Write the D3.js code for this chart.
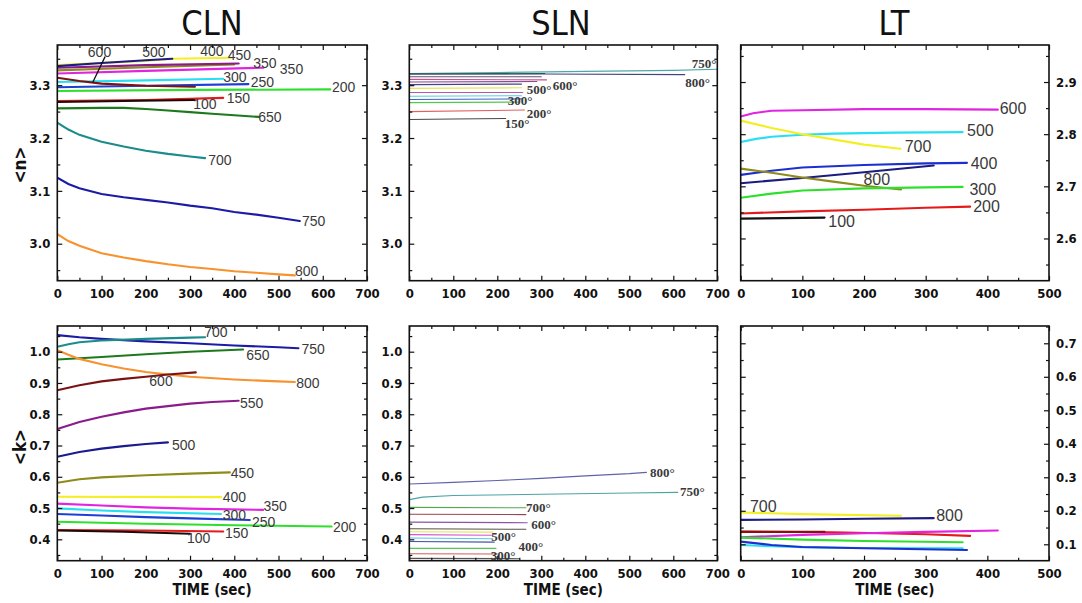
<!DOCTYPE html>
<html>
<head>
<meta charset="utf-8">
<script src="https://cdn.jsdelivr.net/npm/d3@7"></script>
<style>
  html, body { margin: 0; padding: 0; background: #fff; }
  svg { display: block; }
  .tick text { font-family: "Liberation Sans Narrow", "Arial Narrow", "DejaVu Sans Condensed", sans-serif; font-weight: bold; font-size: 13px; fill: #111; }
  .tick line { stroke: #111; stroke-width: 1.2; }
</style>
</head>
<body>
<svg id="chart" width="1082" height="603"></svg>
<script>
// ---- time axis ticks ----
const timeTicks700 = [0, 100, 200, 300, 400, 500, 600, 700];
const timeTicks500 = [0, 100, 200, 300, 400, 500];
const nTicksA = [3.0, 3.1, 3.2, 3.3];
const nTicksLT = [2.6, 2.7, 2.8, 2.9];
const kTicksA = [0.4, 0.5, 0.6, 0.7, 0.8, 0.9, 1.0];
const kTicksLT = [0.1, 0.2, 0.3, 0.4, 0.5, 0.6, 0.7];

// ---- CLN: refractive index <n> vs time, [sec, n] per anneal temperature ----
const clnN = [
  { temp: "400", pts: [[0,3.338],[200,3.346],[260,3.350],[395,3.352]] },
  { temp: "450", pts: [[0,3.328],[200,3.334],[400,3.339]] },
  { temp: "550", pts: [[0,3.333],[200,3.338],[410,3.341]] },
  { temp: "500", pts: [[0,3.336],[100,3.342],[200,3.347],[260,3.350]] },
  { temp: "350", pts: [[0,3.322],[200,3.327],[466,3.333]] },
  { temp: "300", pts: [[0,3.306],[200,3.309],[375,3.312]] },
  { temp: "250", pts: [[0,3.296],[200,3.299],[432,3.302]] },
  { temp: "200", pts: [[0,3.289],[300,3.291],[617,3.292]] },
  { temp: "600", pts: [[0,3.314],[50,3.308],[100,3.303],[200,3.299],[311,3.297]] },
  { temp: "150", pts: [[0,3.270],[200,3.272],[375,3.276]] },
  { temp: "100", pts: [[0,3.268],[150,3.270],[310,3.272]] },
  { temp: "650", pts: [[0,3.256],[100,3.257],[150,3.257],[200,3.255],[250,3.252],[300,3.249],[350,3.246],[400,3.243],[455,3.240]] },
  { temp: "700", pts: [[0,3.229],[25,3.216],[50,3.206],[100,3.193],[150,3.184],[200,3.176],[250,3.170],[300,3.165],[334,3.162]] },
  { temp: "750", pts: [[0,3.125],[25,3.113],[50,3.105],[100,3.094],[150,3.088],[200,3.083],[250,3.078],[300,3.072],[350,3.067],[400,3.060],[450,3.055],[500,3.049],[548,3.043]] },
  { temp: "800", pts: [[0,3.018],[25,3.005],[50,2.996],[100,2.982],[150,2.974],[200,2.967],[250,2.961],[300,2.956],[350,2.952],[400,2.948],[450,2.945],[500,2.942],[537,2.940]] }
];

// ---- CLN: extinction coefficient <k> vs time ----
const clnK = [
  { temp: "750", pts: [[0,1.053],[50,1.046],[100,1.041],[150,1.037],[200,1.033],[300,1.027],[400,1.020],[500,1.014],[545,1.011]] },
  { temp: "700", pts: [[0,1.016],[25,1.024],[50,1.030],[100,1.036],[200,1.041],[300,1.045],[334,1.046]] },
  { temp: "650", pts: [[0,0.975],[100,0.983],[200,0.992],[300,1.000],[420,1.007]] },
  { temp: "800", pts: [[0,1.005],[25,0.990],[50,0.977],[100,0.960],[150,0.946],[200,0.935],[250,0.927],[300,0.920],[400,0.911],[500,0.905],[537,0.903]] },
  { temp: "600", pts: [[0,0.877],[50,0.893],[100,0.905],[150,0.913],[200,0.920],[250,0.927],[313,0.934]] },
  { temp: "550", pts: [[0,0.753],[50,0.775],[100,0.792],[150,0.806],[200,0.818],[250,0.826],[300,0.834],[350,0.839],[410,0.843]] },
  { temp: "500", pts: [[0,0.664],[50,0.679],[100,0.690],[150,0.698],[200,0.705],[250,0.710]] },
  { temp: "450", pts: [[0,0.581],[50,0.592],[100,0.598],[200,0.605],[300,0.610],[390,0.614]] },
  { temp: "400", pts: [[0,0.536],[370,0.535]] },
  { temp: "350", pts: [[0,0.514],[100,0.508],[200,0.502],[300,0.498],[465,0.494]] },
  { temp: "300", pts: [[0,0.499],[100,0.492],[200,0.487],[370,0.481]] },
  { temp: "250", pts: [[0,0.481],[100,0.476],[200,0.471],[300,0.467],[435,0.462]] },
  { temp: "200", pts: [[0,0.456],[200,0.450],[400,0.445],[620,0.441]] },
  { temp: "150", pts: [[0,0.430],[200,0.428],[375,0.425]] },
  { temp: "100", pts: [[0,0.428],[150,0.424],[300,0.418]] }
];

// ---- SLN: <n> vs time ----
const slnN = [
  { temp: "150", pts: [[0,3.235],[100,3.236],[219,3.237]] },
  { temp: "200", pts: [[0,3.250],[262,3.253]] },
  { temp: "250", pts: [[0,3.267],[250,3.268]] },
  { temp: "300", pts: [[0,3.273],[255,3.274]] },
  { temp: "350", pts: [[0,3.279],[255,3.280]] },
  { temp: "400", pts: [[0,3.286],[258,3.286]] },
  { temp: "450", pts: [[0,3.294],[256,3.295]] },
  { temp: "500", pts: [[0,3.301],[255,3.302]] },
  { temp: "550", pts: [[0,3.306],[290,3.307]] },
  { temp: "600", pts: [[0,3.311],[312,3.310]] },
  { temp: "650", pts: [[0,3.316],[300,3.316]] },
  { temp: "750", pts: [[0,3.322],[200,3.324],[400,3.326],[600,3.328],[700,3.330]] },
  { temp: "800", pts: [[0,3.321],[300,3.321],[626,3.320]] },
  { temp: "700", pts: [[0,3.321],[308,3.322]] }
];

// ---- SLN: <k> vs time ----
const slnK = [
  { temp: "200", pts: [[0,0.339],[250,0.338]] },
  { temp: "250", pts: [[0,0.354],[200,0.353]] },
  { temp: "300", pts: [[0,0.371],[197,0.371]] },
  { temp: "350", pts: [[0,0.393],[193,0.391]] },
  { temp: "400", pts: [[0,0.404],[190,0.402]] },
  { temp: "450", pts: [[0,0.415],[190,0.413]] },
  { temp: "500", pts: [[0,0.424],[190,0.423]] },
  { temp: "550", pts: [[0,0.434],[265,0.432]] },
  { temp: "600", pts: [[0,0.455],[268,0.453]] },
  { temp: "650", pts: [[0,0.480],[265,0.479]] },
  { temp: "700", pts: [[0,0.502],[265,0.501]] },
  { temp: "750", pts: [[0,0.527],[30,0.535],[100,0.540],[300,0.544],[500,0.548],[610,0.550]] },
  { temp: "800", pts: [[0,0.577],[100,0.582],[200,0.588],[300,0.595],[400,0.603],[500,0.610],[539,0.614]] }
];

// ---- LT: <n> vs time ----
const ltN = [
  { temp: "600", pts: [[0,2.834],[20,2.840],[50,2.845],[100,2.846],[200,2.848],[300,2.848],[417,2.847]] },
  { temp: "500", pts: [[0,2.785],[25,2.791],[50,2.795],[100,2.799],[150,2.801],[250,2.803],[360,2.804]] },
  { temp: "700", pts: [[0,2.826],[50,2.812],[100,2.800],[150,2.790],[200,2.780],[259,2.772]] },
  { temp: "400", pts: [[0,2.722],[50,2.730],[100,2.736],[200,2.741],[300,2.744],[367,2.745]] },
  { temp: "800", pts: [[0,2.706],[100,2.716],[200,2.727],[313,2.740]] },
  { temp: "750", pts: [[0,2.734],[50,2.726],[100,2.717],[150,2.709],[200,2.701],[260,2.694]] },
  { temp: "300", pts: [[0,2.678],[50,2.686],[100,2.692],[200,2.696],[300,2.698],[360,2.699]] },
  { temp: "200", pts: [[0,2.648],[100,2.652],[200,2.655],[300,2.659],[372,2.661]] },
  { temp: "100", pts: [[0,2.638],[136,2.640]] }
];

// ---- LT: <k> vs time ----
const ltK = [
  { temp: "700", pts: [[0,0.195],[100,0.190],[260,0.185]] },
  { temp: "800", pts: [[0,0.173],[100,0.174],[200,0.176],[313,0.178]] },
  { temp: "200", pts: [[0,0.138],[150,0.136],[300,0.130],[372,0.125]] },
  { temp: "600", pts: [[0,0.121],[100,0.128],[200,0.133],[300,0.137],[417,0.141]] },
  { temp: "100", pts: [[0,0.137],[136,0.137]] },
  { temp: "300", pts: [[0,0.120],[100,0.114],[200,0.110],[360,0.106]] },
  { temp: "500", pts: [[0,0.098],[50,0.094],[100,0.091],[200,0.089],[360,0.088]] },
  { temp: "400", pts: [[0,0.108],[50,0.098],[100,0.092],[200,0.088],[367,0.083]] }
];

// ---- curve annotations: text and [sec, value] anchor ----
const clnNLabels = [
  ["600",[69,3.363]],["500",[192,3.363]],["400",[323,3.365]],["450",[385,3.356]],
  ["350",[443,3.342]],["350",[503,3.331]],["300",[375,3.316]],["250",[437,3.305]],
  ["200",[621,3.297]],["150",[383,3.276]],["100",[307,3.264]],["650",[454,3.240]],
  ["700",[341,3.159]],["750",[553,3.043]],["800",[537,2.948]]
];
const clnKLabels = [
  ["700",[332,1.064]],["750",[552,1.008]],["650",[427,0.989]],["800",[540,0.899]],
  ["600",[208,0.907]],["550",[413,0.837]],["500",[259,0.702]],["450",[392,0.611]],
  ["400",[374,0.534]],["350",[466,0.506]],["300",[374,0.479]],["250",[440,0.456]],
  ["200",[623,0.440]],["150",[379,0.421]],["100",[293,0.403]]
];
const slnNLabels = [
  ["750°",[642,3.341]],["800°",[627,3.306]],["600°",[326,3.300]],["500°",[267,3.292]],
  ["300°",[224,3.272]],["200°",[267,3.247]],["150°",[217,3.227]]
];
const slnKLabels = [
  ["800°",[547,0.615]],["750°",[615,0.554]],["700°",[265,0.503]],["600°",[277,0.446]],
  ["500°",[186,0.409]],["400°",[248,0.377]],["300°",[185,0.347]]
];
const ltNLabels = [
  ["600",[420,2.850]],["500",[367,2.807]],["700",[266,2.776]],["400",[373,2.744]],
  ["800",[199,2.713]],["300",[371,2.695]],["200",[377,2.662]],["100",[142,2.632]]
];
const ltKLabels = [["700",[15,0.214]],["800",[317,0.185]]];

// ---- line colours ----
const clnColors = {
  "100":"#1a0a0a","150":"#e41a1a","200":"#2ee02e","250":"#1d3fd6","300":"#27dff0",
  "350":"#e024e0","400":"#f3ef22","450":"#8e8b1c","500":"#1b1b8e","550":"#8b1b8b",
  "600":"#7c1212","650":"#1c7a1c","700":"#1b8c8c","750":"#1b1ba6","800":"#f7922f"
};
const slnNColors = {
  "150":"#333333","200":"#e05050","250":"#40c040","300":"#3050c0","350":"#40c8e0",
  "400":"#b040b0","450":"#e8e040","500":"#303080","550":"#7a3a8a","600":"#c04080",
  "650":"#504060","700":"#204a50","750":"#3aa0a0","800":"#303070"
};
const slnKColors = {
  "200":"#404040","250":"#d04a4a","300":"#40c040","350":"#3040a0","400":"#40c0e0",
  "450":"#d040d0","500":"#e8e040","550":"#404030","600":"#8040a0","650":"#903040",
  "700":"#40a040","750":"#3a9a9a","800":"#5050a0"
};
const ltColors = {
  "100":"#111111","200":"#e41a1a","300":"#2ee02e","400":"#1d2fd0","500":"#27dff0",
  "600":"#e024e0","700":"#f3ef22","750":"#8e8b1c","800":"#1b1b80"
};
const ltKColors = Object.assign({}, ltColors, { "100": "#8a1010" });

const svg = d3.select("#chart");
const labelFont = "Liberation Sans, Arial, sans-serif";
const serifFont = "Liberation Serif, Times New Roman, serif";

function drawPanel(cfg) {
  const x = d3.scaleLinear().domain(cfg.xDomain).range([cfg.left, cfg.right]);
  const y = d3.scaleLinear().domain(cfg.yDomain).range([cfg.bottom, cfg.top]);
  const g = svg.append("g");
  const clipId = "clip-" + cfg.id;
  svg.append("clipPath").attr("id", clipId).append("rect")
    .attr("x", cfg.left).attr("y", cfg.top)
    .attr("width", cfg.right - cfg.left).attr("height", cfg.bottom - cfg.top);

  const line = d3.line().x(d => x(d[0])).y(d => y(d[1]));
  g.append("g").attr("clip-path", `url(#${clipId})`)
    .selectAll("path").data(cfg.series).join("path")
    .attr("d", d => line(d.pts))
    .attr("fill", "none")
    .attr("stroke", d => cfg.colors[d.temp])
    .attr("stroke-width", cfg.lineWidth)
    .attr("stroke-linecap", "round")
    .attr("opacity", cfg.lineOpacity || 1);

  // curve annotations
  g.append("g").selectAll("text").data(cfg.labels).join("text")
    .attr("x", d => x(d[1][0]))
    .attr("y", d => y(d[1][1]))
    .attr("dy", "0.35em")
    .attr("font-family", cfg.labelFamily)
    .attr("font-weight", cfg.labelWeight)
    .attr("font-size", cfg.labelSize)
    .attr("fill", "#3a3a3a")
    .text(d => d[0]);

  // ticks (inward on all four sides)
  const xMinor = d3.range(cfg.xDomain[0] + 50, cfg.xDomain[1], 100);
  const yMinor = cfg.yTicks.map(v => v - 0.05).concat([cfg.yTicks[cfg.yTicks.length - 1] + 0.05])
    .filter(v => v > cfg.yDomain[0] && v < cfg.yDomain[1]);
  const fmtX = d3.format("d"), fmtY = d3.format(".1f");

  const addAxis = (axis, transform) => {
    const a = g.append("g").attr("transform", transform).call(axis);
    a.select(".domain").remove();
    return a;
  };
  addAxis(d3.axisBottom(x).tickValues(cfg.xTicks).tickSize(-5).tickPadding(8).tickFormat(fmtX), `translate(0,${cfg.bottom})`);
  addAxis(d3.axisBottom(x).tickValues(xMinor).tickSize(-3).tickFormat(""), `translate(0,${cfg.bottom})`);
  addAxis(d3.axisTop(x).tickValues(cfg.xTicks).tickSize(-5).tickFormat(""), `translate(0,${cfg.top})`);
  addAxis(d3.axisTop(x).tickValues(xMinor).tickSize(-3).tickFormat(""), `translate(0,${cfg.top})`);
  const leftMajor = d3.axisLeft(y).tickValues(cfg.yTicks).tickSize(-5).tickPadding(7)
    .tickFormat(cfg.yLabelSide === "left" ? fmtY : "");
  const rightMajor = d3.axisRight(y).tickValues(cfg.yTicks).tickSize(-5).tickPadding(7)
    .tickFormat(cfg.yLabelSide === "right" ? fmtY : "");
  addAxis(leftMajor, `translate(${cfg.left},0)`);
  addAxis(d3.axisLeft(y).tickValues(yMinor).tickSize(-3).tickFormat(""), `translate(${cfg.left},0)`);
  addAxis(rightMajor, `translate(${cfg.right},0)`);
  addAxis(d3.axisRight(y).tickValues(yMinor).tickSize(-3).tickFormat(""), `translate(${cfg.right},0)`);

  g.append("rect")
    .attr("x", cfg.left).attr("y", cfg.top)
    .attr("width", cfg.right - cfg.left).attr("height", cfg.bottom - cfg.top)
    .attr("fill", "none").attr("stroke", "#111").attr("stroke-width", 1.6);
  return { x, y };
}

const rows = { nTop: 45, nBottom: 280.7, kTop: 326, kBottom: 560.7 };
const cols = {
  cln: [57.3, 367.0], sln: [409.3, 717.3], lt: [740.7, 1049.0]
};

const heavy = { lineWidth: 2.1, labelFamily: labelFont, labelWeight: "normal", labelSize: 14 };
const thin = { lineWidth: 1.1, lineOpacity: 0.9, labelFamily: serifFont, labelWeight: "bold", labelSize: 13 };

drawPanel(Object.assign({ id: "clnN", left: cols.cln[0], right: cols.cln[1], top: rows.nTop, bottom: rows.nBottom,
  xDomain: [0, 700], yDomain: [2.93, 3.376], xTicks: timeTicks700, yTicks: nTicksA, yLabelSide: "left",
  series: clnN, colors: clnColors, labels: clnNLabels }, heavy));
drawPanel(Object.assign({ id: "slnN", left: cols.sln[0], right: cols.sln[1], top: rows.nTop, bottom: rows.nBottom,
  xDomain: [0, 700], yDomain: [2.93, 3.376], xTicks: timeTicks700, yTicks: nTicksA, yLabelSide: "left",
  series: slnN, colors: slnNColors, labels: slnNLabels }, thin));
drawPanel(Object.assign({ id: "ltN", left: cols.lt[0], right: cols.lt[1], top: rows.nTop, bottom: rows.nBottom,
  xDomain: [0, 500], yDomain: [2.519, 2.971], xTicks: timeTicks500, yTicks: nTicksLT, yLabelSide: "right",
  series: ltN, colors: ltColors, labels: ltNLabels }, heavy, { labelSize: 16 }));

drawPanel(Object.assign({ id: "clnK", left: cols.cln[0], right: cols.cln[1], top: rows.kTop, bottom: rows.kBottom,
  xDomain: [0, 700], yDomain: [0.3316, 1.0822], xTicks: timeTicks700, yTicks: kTicksA, yLabelSide: "left",
  series: clnK, colors: clnColors, labels: clnKLabels }, heavy));
drawPanel(Object.assign({ id: "slnK", left: cols.sln[0], right: cols.sln[1], top: rows.kTop, bottom: rows.kBottom,
  xDomain: [0, 700], yDomain: [0.3316, 1.0822], xTicks: timeTicks700, yTicks: kTicksA, yLabelSide: "left",
  series: slnK, colors: slnKColors, labels: slnKLabels }, thin));
drawPanel(Object.assign({ id: "ltK", left: cols.lt[0], right: cols.lt[1], top: rows.kTop, bottom: rows.kBottom,
  xDomain: [0, 500], yDomain: [0.051, 0.7516], xTicks: timeTicks500, yTicks: kTicksLT, yLabelSide: "right",
  series: ltK, colors: ltKColors, labels: ltKLabels }, heavy, { labelSize: 16 }));

// pointer from the "600" annotation to its curve
{
  const x = d3.scaleLinear().domain([0, 700]).range(cols.cln);
  const y = d3.scaleLinear().domain([2.93, 3.376]).range([rows.nBottom, rows.nTop]);
  svg.append("line")
    .attr("x1", x(108)).attr("y1", y(3.354))
    .attr("x2", x(80)).attr("y2", y(3.305))
    .attr("stroke", "#111").attr("stroke-width", 1.3);
}

// panel titles
const titles = [["CLN", 212], ["SLN", 561], ["LT", 894]];
svg.selectAll("text.title").data(titles).join("text")
  .attr("class", "title")
  .attr("x", d => d[1]).attr("y", 35)
  .attr("text-anchor", "middle")
  .attr("font-family", "Liberation Sans Narrow, Arial Narrow, DejaVu Sans Condensed, sans-serif")
  .attr("font-size", 34)
  .attr("fill", "#111")
  .text(d => d[0]);

// axis titles
const axisFont = "Liberation Sans Narrow, Arial Narrow, DejaVu Sans Condensed, sans-serif";
[["<n>", 165], ["<k>", 447]].forEach(([t, cy]) => {
  svg.append("text")
    .attr("transform", `translate(20,${cy}) rotate(-90)`)
    .attr("text-anchor", "middle").attr("dy", "0.35em")
    .attr("font-family", axisFont).attr("font-weight", "bold").attr("font-size", 17)
    .attr("fill", "#111").text(t);
});
[cols.cln, cols.sln, cols.lt].forEach(c => {
  svg.append("text")
    .attr("x", (c[0] + c[1]) / 2).attr("y", 595)
    .attr("text-anchor", "middle")
    .attr("font-family", axisFont).attr("font-weight", "bold").attr("font-size", 15)
    .attr("fill", "#111").text("TIME (sec)");
});
</script>
</body>
</html>
